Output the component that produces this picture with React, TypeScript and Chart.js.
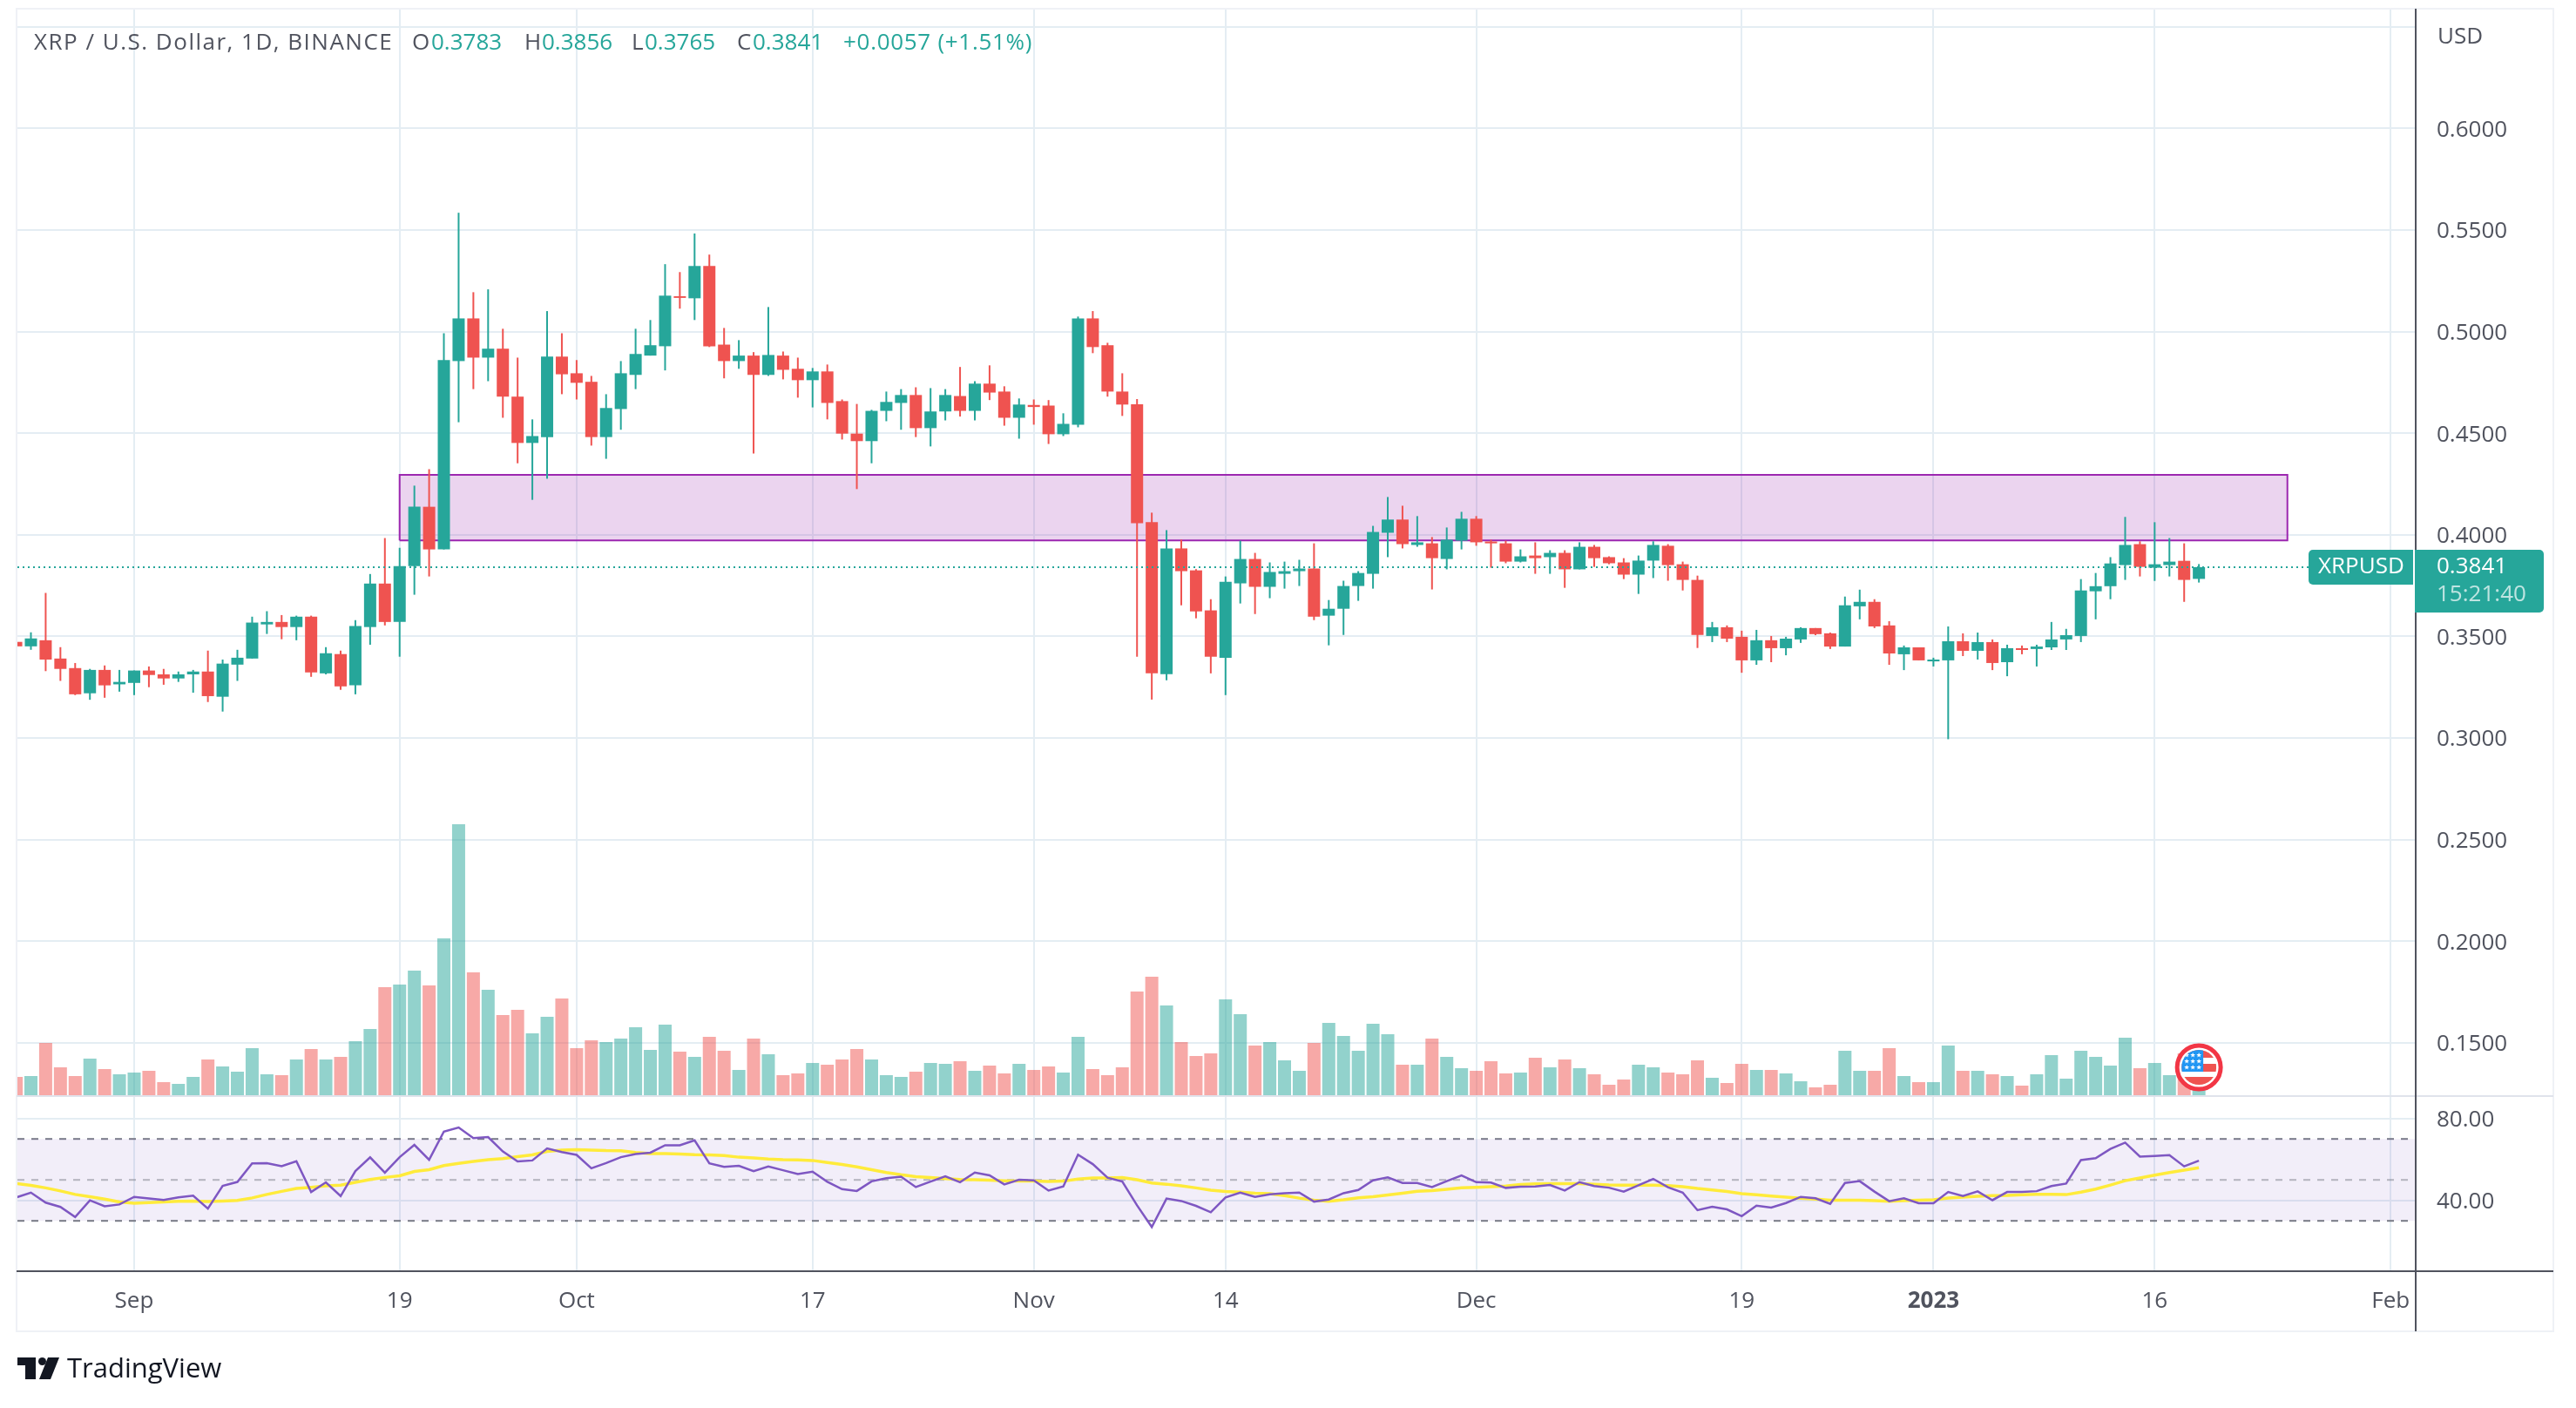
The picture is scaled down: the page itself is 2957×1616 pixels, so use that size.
import React, { useEffect, useRef } from "react";
import { Chart, registerables } from "chart.js";

Chart.register(...registerables);

const FONT = '"Open Sans", sans-serif';
const UP = "#26a69a";
const DOWN = "#ef5350";
const GRID = "#e4edf3";

const opens = [
  0.3473,0.3451,0.3481,0.3391,0.3344,0.3220,0.3335,0.3264,0.3271,0.3332,
  0.3313,0.3293,0.3313,0.3327,0.3203,0.3361,0.3391,0.3559,0.3571,0.3546,
  0.3597,0.3318,0.3413,0.3259,0.3546,0.3760,0.3571,0.3846,0.4138,0.3928,
  0.4855,0.5065,0.4872,0.4916,0.4680,0.4452,0.4481,0.4877,0.4795,0.4753,
  0.4481,0.4619,0.4787,0.4882,0.4928,0.5174,0.5164,0.5323,0.4936,0.4855,
  0.4882,0.4787,0.4882,0.4817,0.4761,0.4804,0.4658,0.4498,0.4461,0.4610,
  0.4649,0.4688,0.4525,0.4607,0.4683,0.4610,0.4744,0.4705,0.4576,0.4639,
  0.4636,0.4495,0.4542,0.5065,0.4933,0.4705,0.4642,0.4062,0.3314,0.3933,
  0.3825,0.3628,0.3395,0.3761,0.3881,0.3744,0.3808,0.3821,0.3834,0.3602,
  0.3636,0.3748,0.3808,0.4010,0.4075,0.3950,0.3958,0.3881,0.3971,0.4079,
  0.3967,0.3958,0.3868,0.3898,0.3890,0.3911,0.3830,0.3941,0.3890,0.3864,
  0.3804,0.3873,0.3946,0.3855,0.3778,0.3502,0.3545,0.3498,0.3382,0.3481,
  0.3442,0.3485,0.3541,0.3515,0.3450,0.3648,0.3670,0.3554,0.3412,0.3446,
  0.3377,0.3382,0.3476,0.3429,0.3472,0.3373,0.3442,0.3438,0.3446,0.3485,
  0.3502,0.3722,0.3747,0.3851,0.3954,0.3838,0.3851,0.3872,0.3783,
];
const closes = [
  0.3451,0.3490,0.3386,0.3340,0.3215,0.3335,0.3259,0.3276,0.3332,0.3310,
  0.3293,0.3313,0.3327,0.3206,0.3366,0.3395,0.3568,0.3571,0.3546,0.3597,
  0.3323,0.3417,0.3254,0.3551,0.3760,0.3571,0.3846,0.4138,0.3928,0.4860,
  0.5065,0.4872,0.4916,0.4680,0.4452,0.4486,0.4877,0.4790,0.4748,0.4481,
  0.4624,0.4795,0.4890,0.4933,0.5177,0.5166,0.5323,0.4928,0.4855,0.4882,
  0.4787,0.4885,0.4812,0.4761,0.4804,0.4649,0.4498,0.4461,0.4610,0.4654,
  0.4688,0.4525,0.4607,0.4688,0.4610,0.4744,0.4700,0.4576,0.4641,0.4629,
  0.4495,0.4546,0.5065,0.4924,0.4705,0.4641,0.4057,0.3318,0.3933,0.3821,
  0.3623,0.3400,0.3769,0.3881,0.3744,0.3817,0.3821,0.3834,0.3597,0.3636,
  0.3748,0.3812,0.4014,0.4075,0.3954,0.3963,0.3885,0.3976,0.4079,0.3963,
  0.3958,0.3868,0.3894,0.3885,0.3911,0.3830,0.3941,0.3885,0.3860,0.3804,
  0.3873,0.3950,0.3851,0.3778,0.3507,0.3545,0.3489,0.3382,0.3481,0.3442,
  0.3489,0.3541,0.3511,0.3450,0.3653,0.3670,0.3549,0.3416,0.3446,0.3382,
  0.3386,0.3476,0.3429,0.3472,0.3369,0.3442,0.3433,0.3450,0.3485,0.3506,
  0.3726,0.3747,0.3859,0.3950,0.3842,0.3855,0.3868,0.3778,0.3841,
];
const highs = [
  0.3524,0.3520,0.3714,0.3447,0.3369,0.3340,0.3357,0.3335,0.3332,0.3352,
  0.3340,0.3327,0.3335,0.3430,0.3386,0.3434,0.3597,0.3624,0.3605,0.3602,
  0.3602,0.3447,0.3430,0.3580,0.3807,0.3984,0.3936,0.4242,0.4323,0.4992,
  0.5585,0.5194,0.5208,0.5014,0.4872,0.4568,0.5101,0.4992,0.4860,0.4782,
  0.4692,0.4855,0.5014,0.5057,0.5332,0.5293,0.5483,0.5379,0.5018,0.4958,
  0.4899,0.5121,0.4902,0.4872,0.4821,0.4838,0.4666,0.4644,0.4615,0.4705,
  0.4717,0.4726,0.4722,0.4717,0.4826,0.4756,0.4834,0.4731,0.4671,0.4666,
  0.4663,0.4598,0.5074,0.5101,0.4945,0.4795,0.4668,0.4109,0.4023,0.3976,
  0.3831,0.3683,0.3795,0.3971,0.3911,0.3864,0.3868,0.3877,0.3958,0.3679,
  0.3774,0.3821,0.4044,0.4186,0.4143,0.4092,0.3989,0.4036,0.4113,0.4092,
  0.3976,0.3971,0.3928,0.3963,0.3924,0.3924,0.3963,0.3950,0.3894,0.3885,
  0.3898,0.3968,0.3954,0.3868,0.3799,0.3571,0.3554,0.3528,0.3532,0.3502,
  0.3498,0.3545,0.3541,0.3519,0.3696,0.3730,0.3683,0.3575,0.3455,0.3446,
  0.3395,0.3549,0.3515,0.3519,0.3485,0.3459,0.3455,0.3459,0.3571,0.3537,
  0.3782,0.3812,0.3890,0.4088,0.3968,0.4062,0.3984,0.3958,0.3856,
];
const lows = [
  0.3388,0.3434,0.3329,0.3281,0.3211,0.3188,0.3198,0.3228,0.3211,0.3250,
  0.3262,0.3276,0.3223,0.3177,0.3130,0.3281,0.3391,0.3512,0.3486,0.3481,
  0.3301,0.3313,0.3237,0.3215,0.3459,0.3554,0.3400,0.3705,0.3795,0.3928,
  0.4554,0.4717,0.4756,0.4576,0.4352,0.4172,0.4276,0.4692,0.4666,0.4439,
  0.4374,0.4517,0.4717,0.4882,0.4809,0.5113,0.5057,0.4924,0.4770,0.4817,
  0.4400,0.4782,0.4765,0.4675,0.4627,0.4568,0.4469,0.4225,0.4352,0.4559,
  0.4517,0.4481,0.4435,0.4563,0.4582,0.4563,0.4663,0.4537,0.4473,0.4542,
  0.4447,0.4486,0.4529,0.4894,0.4680,0.4585,0.3400,0.3189,0.3284,0.3653,
  0.3589,0.3318,0.3211,0.3662,0.3610,0.3688,0.3735,0.3748,0.3580,0.3456,
  0.3507,0.3675,0.3735,0.3890,0.3933,0.3941,0.3731,0.3830,0.3928,0.3946,
  0.3838,0.3860,0.3864,0.3808,0.3808,0.3739,0.3830,0.3842,0.3855,0.3782,
  0.3709,0.3787,0.3774,0.3726,0.3443,0.3472,0.3472,0.3321,0.3360,0.3373,
  0.3407,0.3468,0.3506,0.3438,0.3450,0.3584,0.3541,0.3360,0.3334,0.3382,
  0.3352,0.2994,0.3403,0.3386,0.3334,0.3304,0.3412,0.3352,0.3433,0.3433,
  0.3472,0.3584,0.3683,0.3778,0.3795,0.3773,0.3795,0.3670,0.3765,
];
const volumes = [
  21,22,60,32,22,42,30,24,26,28,
  15,13,21,41,33,27,54,24,23,41,
  53,41,44,62,76,124,127,143,126,180,
  311,141,121,92,98,71,90,111,54,63,
  61,65,78,52,81,50,44,67,51,29,
  65,47,23,25,37,35,41,53,41,23,
  21,27,37,36,39,28,34,25,36,29,
  33,26,67,30,23,32,119,136,103,61,
  45,48,110,93,57,61,40,28,60,83,
  68,51,82,70,35,35,65,44,31,28,
  39,25,26,43,32,41,31,24,12,18,
  35,32,26,24,40,20,14,36,29,29,
  25,16,9,12,51,28,28,54,22,15,
  15,57,28,28,24,22,11,24,46,19,
  51,44,34,66,31,37,23,48,20,
];
const rsi = [
  41.4,43.8,38.9,36.8,31.9,40.0,37.1,38.0,41.7,40.9,
  40.2,41.5,42.3,36.0,47.1,49.0,58.1,58.2,56.7,59.1,
  44.1,48.8,42.1,54.3,61.0,53.5,61.1,67.1,59.8,73.6,
  75.6,70.4,70.9,63.9,59.0,59.5,65.4,63.6,62.2,55.7,
  58.2,61.1,62.6,63.3,66.9,66.9,69.3,58.1,56.4,56.9,
  54.3,56.6,54.7,52.9,54.0,49.1,45.5,44.6,49.3,50.8,
  51.6,46.5,49.2,51.8,48.9,53.6,52.2,47.8,50.1,49.8,
  44.8,46.8,62.3,57.7,51.1,49.2,37.6,27.0,40.9,39.7,
  37.3,34.2,41.4,43.8,41.7,43.0,43.5,43.8,39.4,40.4,
  43.5,45.1,49.8,51.2,48.5,48.5,46.5,49.4,52.2,48.9,
  48.7,46.1,46.7,46.8,47.5,44.8,48.9,47.0,46.2,44.3,
  47.4,50.5,46.4,43.8,35.2,36.9,35.6,32.3,37.4,36.5,
  38.7,41.7,41.0,38.3,48.5,49.4,44.3,39.6,41.0,38.6,
  38.6,44.1,42.1,44.4,40.1,44.1,44.1,44.5,47.0,48.2,
  59.7,60.6,65.1,68.2,61.4,61.7,62.1,56.6,59.4,
];
const rsiMa = [
  48.2,47.3,46.1,44.6,42.9,41.8,40.6,39.2,38.6,38.9,
  39.2,39.5,39.7,39.4,39.7,40.0,41.2,42.9,44.4,45.8,
  46.4,47.1,47.4,48.8,50.2,51.2,52.0,54.1,55.0,57.0,
  58.1,59.0,59.9,60.4,61.4,62.2,63.9,64.6,64.8,64.6,
  64.3,64.2,63.4,62.9,62.8,62.6,62.3,62.2,61.9,61.1,
  60.7,60.2,59.9,59.8,59.5,58.5,57.5,56.4,55.0,53.6,
  52.5,51.6,51.1,50.6,50.2,50.1,49.9,49.6,49.4,49.4,
  49.2,49.4,50.4,50.9,50.9,51.1,50.1,48.5,47.9,47.1,
  46.1,45.0,44.3,44.0,43.5,43.3,42.3,41.1,40.1,39.6,
  40.3,41.3,41.8,42.6,43.5,44.4,44.8,45.4,46.1,46.4,
  46.7,47.0,47.7,48.1,48.2,48.2,48.2,47.8,47.5,47.4,
  47.4,47.4,47.2,46.7,45.8,45.1,44.3,43.3,42.7,42.1,
  41.6,41.0,40.6,40.1,40.1,40.1,39.9,39.6,39.9,40.1,
  40.3,41.1,41.6,42.0,42.3,42.4,42.7,43.0,43.0,42.8,
  44.0,45.5,47.5,49.6,50.9,52.3,53.6,54.8,55.9,
];

const xTickIndex = [8, 26, 38, 54, 69, 82, 99, 117, 130, 145, 161];
const xTickText = ["Sep", "19", "Oct", "17", "Nov", "14", "Dec", "19", "2023", "16", "Feb"];
const priceTicks = [0.15, 0.2, 0.25, 0.3, 0.35, 0.4, 0.45, 0.5, 0.55, 0.6, 0.65];
const rsiTicks = [40, 80];
const zoneIndex = [26, 154];
const zonePrice = [0.3972, 0.4295];
const lastPrice = 0.3841;
const rsiLevels = [70, 50, 30];

const X_MIN = 0.085;
const X_MAX = 162.7;

const isUp = (i: number) => closes[i] >= opens[i];
const idx = opens.map((_, i) => i);

function star(ctx: CanvasRenderingContext2D, cx: number, cy: number, r: number) {
  ctx.beginPath();
  for (let k = 0; k < 10; k++) {
    const a = -Math.PI / 2 + (k * Math.PI) / 5;
    const rr = k % 2 ? r * 0.45 : r;
    ctx.lineTo(cx + rr * Math.cos(a), cy + rr * Math.sin(a));
  }
  ctx.closePath();
  ctx.fill();
}

const setBox = (s: any, left: number, top: number, right: number, bottom: number) => {
  s.left = left;
  s.top = top;
  s.right = right;
  s.bottom = bottom;
  s.width = right - left;
  s.height = bottom - top;
  s.configure();
};

const paneLayout = {
  id: "paneLayout",
  afterLayout(chart: any) {
    const { x, y, yRsi, yVol } = chart.scales;
    chart.chartArea.left = 20;
    chart.chartArea.top = 11;
    chart.chartArea.right = 2773;
    chart.chartArea.bottom = 1459;
    chart.chartArea.width = 2753;
    chart.chartArea.height = 1448;
    setBox(x, 20, 1459, 2773, 1528);
    setBox(y, 2773, 11, 2931, 1258);
    setBox(yRsi, 2773, 1258, 2931, 1459);
    setBox(yVol, 2773, 11, 2773, 1459);
  },
};

const decorations = {
  id: "decorations",
  afterDraw(chart: any) {
    const ctx: any = chart.ctx;
    ctx.save();
    // frame and pane separators
    ctx.strokeStyle = "#eff1f6";
    ctx.lineWidth = 2;
    ctx.strokeRect(19, 10, 2912, 1518);
    ctx.strokeStyle = "#e0e3eb";
    ctx.beginPath();
    ctx.moveTo(19, 1258);
    ctx.lineTo(2931, 1258);
    ctx.stroke();
    ctx.strokeStyle = "#50535e";
    ctx.beginPath();
    ctx.moveTo(19, 1459);
    ctx.lineTo(2931, 1459);
    ctx.moveTo(2773, 10);
    ctx.lineTo(2773, 1528);
    ctx.stroke();

    // header
    ctx.textBaseline = "middle";
    ctx.textAlign = "left";
    ctx.font = `26px ${FONT}`;
    const hy = 50;
    ctx.fillStyle = "#50535e";
    ctx.letterSpacing = "1.5px";
    ctx.fillText("XRP / U.S. Dollar, 1D, BINANCE", 39, hy);
    ctx.letterSpacing = "0px";
    ctx.fillText("O", 473, hy);
    ctx.fillText("H", 602, hy);
    ctx.fillText("L", 725, hy);
    ctx.fillText("C", 846, hy);
    ctx.fillStyle = UP;
    ctx.fillText("0.3783", 495, hy);
    ctx.fillText("0.3856", 622, hy);
    ctx.fillText("0.3765", 740, hy);
    ctx.fillText("0.3841", 864, hy);
    ctx.letterSpacing = "0.7px";
    ctx.fillText("+0.0057 (+1.51%)", 968, hy);
    ctx.letterSpacing = "0px";

    ctx.fillStyle = "#50535e";
    ctx.fillText("USD", 2798, 43);

    // last price badges
    ctx.fillStyle = UP;
    ctx.beginPath();
    ctx.roundRect(2650, 631, 120, 40, [5, 0, 0, 5]);
    ctx.fill();
    ctx.beginPath();
    ctx.roundRect(2772, 631, 148, 72, [0, 5, 5, 0]);
    ctx.fill();
    ctx.fillStyle = "#ffffff";
    ctx.fillText("XRPUSD", 2661, 651);
    ctx.fillText("0.3841", 2797, 651);
    ctx.fillStyle = "rgba(255,255,255,0.7)";
    ctx.fillText("15:21:40", 2797, 683);

    // flag marker
    const fx = chart.scales.x.getPixelForValue(148);
    const fy = 1225;
    ctx.fillStyle = "#ffffff";
    ctx.beginPath();
    ctx.arc(fx, fy, 25, 0, Math.PI * 2);
    ctx.fill();
    ctx.strokeStyle = "#f23645";
    ctx.lineWidth = 5;
    ctx.stroke();
    ctx.save();
    ctx.beginPath();
    ctx.arc(fx, fy, 20, 0, Math.PI * 2);
    ctx.clip();
    ctx.fillStyle = DOWN;
    ctx.fillRect(fx - 20, fy - 20, 40, 9);
    ctx.fillRect(fx - 20, fy - 4, 40, 9);
    ctx.fillRect(fx - 20, fy + 11, 40, 9);
    ctx.fillStyle = "#2196f3";
    ctx.fillRect(fx - 20, fy - 20, 25, 25);
    ctx.fillStyle = "#ffffff";
    for (let r = 0; r < 3; r++) {
      for (let c = 0; c < 3; c++) {
        star(ctx, fx - 14 + c * 7, fy - 14 + r * 7, 3);
      }
    }
    ctx.restore();

    // TradingView logo
    ctx.fillStyle = "#131722";
    ctx.beginPath();
    ctx.moveTo(20, 1558);
    ctx.lineTo(41, 1558);
    ctx.lineTo(41, 1583);
    ctx.lineTo(29, 1583);
    ctx.lineTo(29, 1567);
    ctx.lineTo(20, 1567);
    ctx.closePath();
    ctx.fill();
    ctx.beginPath();
    ctx.arc(48.5, 1562.5, 4.5, 0, Math.PI * 2);
    ctx.fill();
    ctx.beginPath();
    ctx.moveTo(55, 1558);
    ctx.lineTo(68, 1558);
    ctx.lineTo(58, 1583);
    ctx.lineTo(45, 1583);
    ctx.closePath();
    ctx.fill();
    ctx.font = `31px ${FONT}`;
    ctx.fillText("TradingView", 77, 1572);
    ctx.restore();
  },
};

export default function App() {
  const ref = useRef<HTMLCanvasElement | null>(null);

  useEffect(() => {
    if (!ref.current) return;
    const levelLine = (v: number, color: string, extra: object, order: number) => ({
      type: "line",
      yAxisID: "yRsi",
      xAxisID: "x",
      data: [{ x: X_MIN, y: v }, { x: X_MAX, y: v }],
      borderColor: color,
      borderWidth: 2,
      borderDash: [8, 8],
      pointRadius: 0,
      order,
      ...extra,
    });

    const chart = new Chart(ref.current, {
      type: "bar",
      data: {
        datasets: [
          levelLine(rsiLevels[0], "#787b86", { fill: false }, 20),
          levelLine(rsiLevels[2], "#787b86", { fill: "-1", backgroundColor: "rgba(126,87,194,0.1)" }, 19),
          levelLine(rsiLevels[1], "rgba(120,123,134,0.5)", { fill: false }, 18),
          {
            type: "bar",
            label: "Volume",
            yAxisID: "yVol",
            xAxisID: "x",
            grouped: false,
            barThickness: 15,
            inflateAmount: 0,
            data: idx.map((i) => ({ x: i, y: volumes[i] })),
            backgroundColor: idx.map((i) => (isUp(i) ? "rgba(38,166,154,0.5)" : "rgba(239,83,80,0.5)")),
            order: 15,
          },
          {
            type: "line",
            label: "Zone",
            yAxisID: "y",
            xAxisID: "x",
            data: [
              { x: zoneIndex[0], y: zonePrice[0] },
              { x: zoneIndex[0], y: zonePrice[1] },
              { x: zoneIndex[1], y: zonePrice[1] },
              { x: zoneIndex[1], y: zonePrice[0] },
              { x: zoneIndex[0], y: zonePrice[0] },
            ],
            borderColor: "#9c27b0",
            borderWidth: 2,
            backgroundColor: "rgba(156,39,176,0.2)",
            fill: "shape",
            pointRadius: 0,
            order: 14,
          },
          {
            type: "bar",
            label: "Wick",
            yAxisID: "y",
            xAxisID: "x",
            grouped: false,
            barThickness: 2,
            inflateAmount: 0,
            data: idx.map((i) => ({ x: i, y: [lows[i], highs[i]] })),
            backgroundColor: idx.map((i) => (isUp(i) ? UP : DOWN)),
            order: 6,
          },
          {
            type: "bar",
            label: "XRPUSD",
            yAxisID: "y",
            xAxisID: "x",
            grouped: false,
            barThickness: 14,
            inflateAmount: 0,
            data: idx.map((i) => ({ x: i, y: [opens[i], closes[i]] })),
            backgroundColor: idx.map((i) => (isUp(i) ? UP : DOWN)),
            order: 5,
          },
          {
            type: "line",
            label: "RSI MA",
            yAxisID: "yRsi",
            xAxisID: "x",
            data: idx.map((i) => ({ x: i, y: rsiMa[i] })),
            borderColor: "#ffeb3b",
            borderWidth: 3.5,
            pointRadius: 0,
            order: 3,
          },
          {
            type: "line",
            label: "RSI",
            yAxisID: "yRsi",
            xAxisID: "x",
            data: idx.map((i) => ({ x: i, y: rsi[i] })),
            borderColor: "#7e57c2",
            borderWidth: 2.5,
            pointRadius: 0,
            order: 2,
          },
          {
            type: "line",
            label: "Last",
            yAxisID: "y",
            xAxisID: "x",
            data: [{ x: X_MIN, y: lastPrice }, { x: X_MAX, y: lastPrice }],
            borderColor: UP,
            borderWidth: 2,
            borderDash: [2, 4],
            pointRadius: 0,
            order: 1,
          },
        ] as any,
      },
      options: {
        responsive: false,
        maintainAspectRatio: false,
        devicePixelRatio: 1,
        animation: false,
        layout: { autoPadding: false, padding: { left: 20, right: 26, top: 11, bottom: 88 } },
        plugins: { legend: { display: false }, tooltip: { enabled: false }, title: { display: false } },
        scales: {
          x: {
            type: "linear",
            position: "bottom",
            min: X_MIN,
            max: X_MAX,
            offset: false,
            bounds: "data",
            grid: { color: GRID, lineWidth: 2, drawTicks: false, offset: false },
            border: { display: false },
            afterBuildTicks: (s: any) => {
              s.ticks = xTickIndex.map((v) => ({ value: v }));
            },
            afterFit: (s: any) => {
              s.height = 69;
            },
            ticks: {
              autoSkip: false,
              maxRotation: 0,
              padding: 19,
              color: "#50535e",
              font: (c: any) => ({
                family: FONT,
                size: 26,
                weight: xTickText[xTickIndex.indexOf(c.tick?.value)] === "2023" ? "bold" : "normal",
              }),
              callback: (v: any) => xTickText[xTickIndex.indexOf(v)] ?? "",
            },
          },
          y: {
            type: "linear",
            position: "right",
            stack: "panes",
            stackWeight: 1247,
            weight: 1,
            min: 0.12376,
            max: 0.65849,
            bounds: "data",
            grid: { color: GRID, lineWidth: 2, drawTicks: false },
            border: { display: false },
            afterBuildTicks: (s: any) => {
              s.ticks = priceTicks.map((v) => ({ value: v }));
            },
            afterFit: (s: any) => {
              s.width = 158;
            },
            ticks: {
              autoSkip: false,
              padding: 24,
              labelOffset: 2,
              color: "#50535e",
              font: { family: FONT, size: 26 },
              callback: (v: any) => (v > 0.62 ? "" : Number(v).toFixed(4)),
            },
          },
          yRsi: {
            type: "linear",
            position: "right",
            stack: "panes",
            stackWeight: 201,
            weight: 2,
            min: 5.4,
            max: 90.94,
            bounds: "data",
            grid: { color: GRID, lineWidth: 2, drawTicks: false },
            border: { display: false },
            afterBuildTicks: (s: any) => {
              s.ticks = rsiTicks.map((v) => ({ value: v }));
            },
            afterFit: (s: any) => {
              s.width = 158;
            },
            ticks: {
              autoSkip: false,
              padding: 24,
              labelOffset: 2,
              color: "#50535e",
              font: { family: FONT, size: 26 },
              callback: (v: any) => Number(v).toFixed(2),
            },
          },
          yVol: {
            type: "linear",
            display: false,
            position: "right",
            min: -202,
            max: 1246,
            grid: { display: false },
          },
        },
      } as any,
      plugins: [paneLayout, decorations],
    });
    return () => chart.destroy();
  }, []);

  return (
    <div style={{ position: "fixed", left: 0, top: 0, width: 2957, height: 1616, background: "#fff" }}>
      <canvas ref={ref} width={2957} height={1616} style={{ display: "block" }} />
    </div>
  );
}
